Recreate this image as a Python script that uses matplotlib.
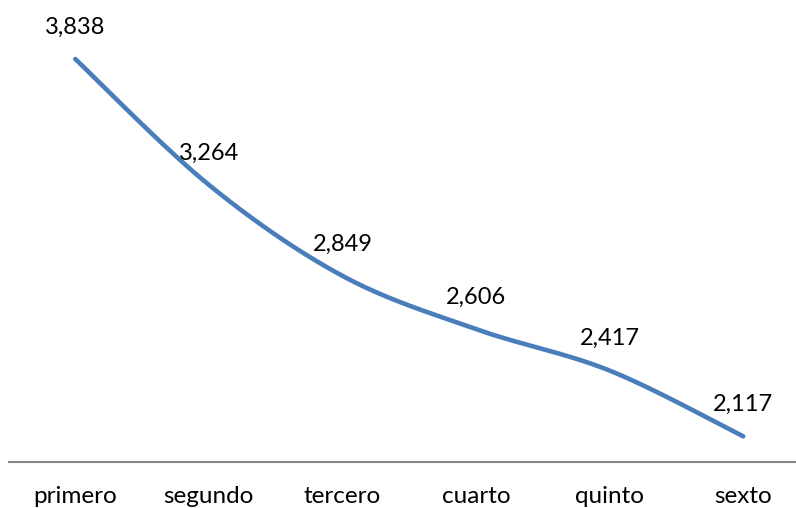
import numpy as np
import matplotlib.pyplot as plt

categories = ['primero', 'segundo', 'tercero', 'cuarto', 'quinto', 'sexto']
values = [3838, 3264, 2849, 2606, 2417, 2117]
labels = ['3,838', '3,264', '2,849', '2,606', '2,417', '2,117']

plt.rcParams['font.family'] = ['Lato', 'DejaVu Sans']


def smooth_curve(x, y, n=40):
    # Bezier smoothing like a spreadsheet "smoothed line"
    x = np.asarray(x, float)
    y = np.asarray(y, float)
    px, py = [], []
    for i in range(len(x) - 1):
        x0, y0 = (x[i - 1], y[i - 1]) if i > 0 else (x[i], y[i])
        x3, y3 = (x[i + 2], y[i + 2]) if i + 2 < len(x) else (x[i + 1], y[i + 1])
        c1x = x[i] + (x[i + 1] - x0) / 6
        c1y = y[i] + (y[i + 1] - y0) / 6
        c2x = x[i + 1] - (x3 - x[i]) / 6
        c2y = y[i + 1] - (y3 - y[i]) / 6
        t = np.linspace(0, 1, n)
        a, b, c, d = (1 - t) ** 3, 3 * t * (1 - t) ** 2, 3 * t ** 2 * (1 - t), t ** 3
        px.extend(a * x[i] + b * c1x + c * c2x + d * x[i + 1])
        py.extend(a * y[i] + b * c1y + c * c2y + d * y[i + 1])
    return px, py


fig = plt.figure(figsize=(7.96, 5.08), dpi=100)
ax = fig.add_axes([8.5 / 796, 46 / 508, 801.5 / 796, 438.5 / 508])

xs = np.arange(len(categories))
sx, sy = smooth_curve(xs, values)
ax.plot(sx, sy, color='#4a7ebb', linewidth=3.3, solid_capstyle='round')

for xi, v, lab in zip(xs, values, labels):
    ax.annotate(lab, (xi, v), xytext=(0, 23), textcoords='offset points',
                ha='center', va='center', fontsize=17, color='black')

ax.set_xlim(-0.5, len(categories) - 0.5)
ax.set_ylim(2000, 4000)
ax.set_yticks([])
ax.set_xticks(xs)
ax.set_xticklabels(categories, fontsize=17.5)
ax.tick_params(axis='x', length=0, pad=17.5)
for s in ['top', 'right', 'left']:
    ax.spines[s].set_visible(False)
ax.spines['bottom'].set_color('#898989')
ax.spines['bottom'].set_linewidth(1.5)

fig.savefig('out.png', dpi=100)
